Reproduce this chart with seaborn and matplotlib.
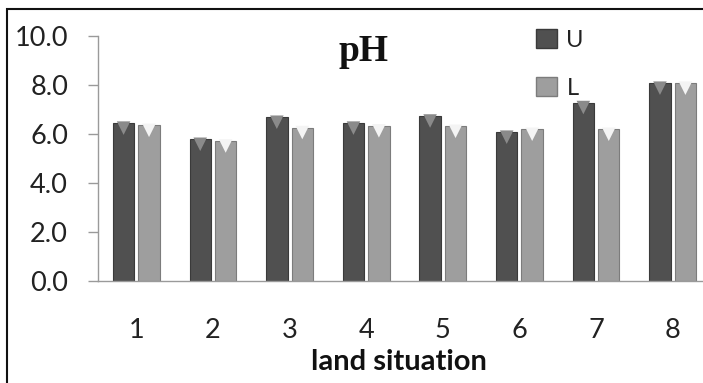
import matplotlib
matplotlib.use("Agg")
import matplotlib.pyplot as plt
import seaborn as sns
import pandas as pd
from matplotlib.patches import Rectangle, Patch
from matplotlib.ticker import FormatStrFormatter

categories = ["1", "2", "3", "4", "5", "6", "7", "8"]
series_names = ["U", "L"]
u_values = [6.44, 5.78, 6.68, 6.44, 6.73, 6.07, 7.28, 8.07]
l_values = [6.35, 5.71, 6.26, 6.33, 6.31, 6.19, 6.19, 8.07]
y_ticks = [0, 2, 4, 6, 8, 10]

df = pd.DataFrame({
    "land situation": categories * 2,
    "pH": u_values + l_values,
    "series": ["U"] * len(categories) + ["L"] * len(categories),
})

sns.set_theme(style="white")
plt.rcParams["font.family"] = ["Lato", "DejaVu Sans"]

W, H = 703, 383
fig = plt.figure(figsize=(W / 100, H / 100), dpi=100)
ax_left, ax_right, ax_top, ax_bottom = 98, 711, 36, 281
ax = fig.add_axes([ax_left / W, 1 - ax_bottom / H, (ax_right - ax_left) / W, (ax_bottom - ax_top) / H])

body = {"U": "#505050", "L": "#9e9e9e"}
edge = {"U": "#3a3a3a", "L": "#7c7c7c"}
cap = {"U": "#8a8a8a", "L": "#f4f4f4"}

sns.barplot(data=df, x="land situation", y="pH", hue="series", hue_order=series_names,
            order=categories, palette=body, width=0.664, gap=0.16, ax=ax,
            edgecolor="#444444", linewidth=0.8, legend=False, errorbar=None)

# style bars and add the triangular cap inside the top of each bar
bars = ax.patches
n = len(categories)
for i, p in enumerate(bars[:2 * n]):
    s = series_names[i // n]
    p.set_facecolor(body[s])
    p.set_edgecolor(edge[s])
    cx = p.get_x() + p.get_width() / 2
    top = p.get_height()
    ax.scatter([cx], [top - 0.2], marker="v", s=95, color=cap[s],
               edgecolors="none", zorder=5, clip_on=False)

ax.set_ylim(0, 10)
ax.set_xlim(-0.5, n - 0.5)
ax.set_yticks(y_ticks)
ax.yaxis.set_major_formatter(FormatStrFormatter("%.1f"))
for side in ["top", "right"]:
    ax.spines[side].set_visible(False)
for side in ["left", "bottom"]:
    ax.spines[side].set_color("#9a9a9a")
    ax.spines[side].set_linewidth(1.0)
ax.tick_params(axis="y", which="major", left=True, length=7.2, width=1.0, color="#9a9a9a",
               pad=14.4, labelsize=19.5, labelcolor="#222222", direction="out")
ax.tick_params(axis="x", bottom=False, length=0, pad=27, labelsize=19.5, labelcolor="#222222")
ax.set_ylabel("")
ax.set_xlabel("land situation", fontsize=21, fontweight="bold", color="#111111", labelpad=4, x=0.491)

# title
fig.text(363.5 / W, 1 - 61 / H, "pH", family="Liberation Serif", fontweight="bold",
         fontsize=27, ha="center", va="baseline", color="#111111")

# legend
handles = [Patch(facecolor=body[s], edgecolor=edge[s]) for s in series_names]
fig.legend(handles, series_names, loc="upper left", bbox_to_anchor=(524 / W, 1 - 17 / H),
           bbox_transform=fig.transFigure, frameon=False, fontsize=17, borderpad=0,
           handlelength=0.9, handleheight=0.9, handletextpad=0.4, labelspacing=1.1,
           labelcolor="#222222")

# outer frame (cropped on right and bottom)
fig.patches.append(Rectangle((7 / W, -0.1), 1.2, 1 - 9 / H + 0.1, transform=fig.transFigure,
                             fill=False, edgecolor="#111111", linewidth=1.5))

fig.savefig("out.png", dpi=100)
